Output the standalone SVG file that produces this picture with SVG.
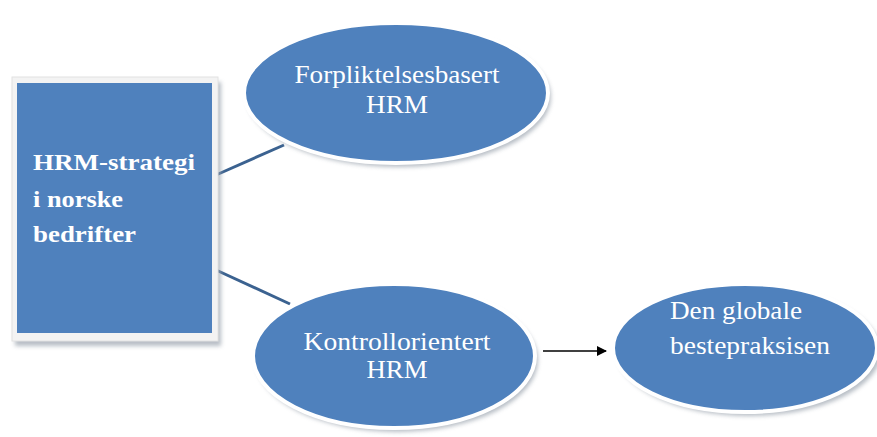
<svg xmlns="http://www.w3.org/2000/svg" width="877" height="437" viewBox="0 0 877 437">
<style>
.blue{fill:#4f81bd}
.oval{fill:#4f81bd;stroke:#ffffff;stroke-width:4}
.shadow{fill:#9aa3ad;opacity:0.7}
.t{font-family:"Liberation Serif","Times New Roman",serif;fill:#ffffff}
.tb{font-family:"Liberation Serif","Times New Roman",serif;fill:#ffffff;font-weight:bold;font-size:24px}
.conn{stroke:#3b6290;stroke-width:3;fill:none}
</style>
<defs>
<filter id="blur" x="-10%" y="-10%" width="120%" height="120%"><feGaussianBlur stdDeviation="2"/></filter>
<marker id="arr" markerWidth="10" markerHeight="10" refX="9" refY="5" orient="auto" markerUnits="userSpaceOnUse"><path d="M0,0 L10,5 L0,10 z" fill="#000"/></marker>
</defs>
<rect width="877" height="437" fill="#ffffff"/>
<g id="connectors">
<line class="conn" x1="216" y1="175" x2="284" y2="145"/>
<line class="conn" x1="216" y1="270" x2="290" y2="304"/>
<line x1="543" y1="351" x2="606" y2="351" stroke="#000" stroke-width="1.5" marker-end="url(#arr)"/>
</g>
<g id="strategy">
<rect class="shadow" x="15" y="82" width="206" height="264" filter="url(#blur)"/>
<rect x="12" y="77" width="206" height="264" fill="#f3f3f3" stroke="#e2e2e2" stroke-width="1"/>
<rect class="blue" x="17" y="83" width="195" height="250"/>
<text class="tb" x="33" y="170" textLength="162" lengthAdjust="spacingAndGlyphs">HRM-strategi</text>
<text class="tb" x="33" y="207" textLength="90" lengthAdjust="spacingAndGlyphs">i norske</text>
<text class="tb" x="33" y="242" textLength="103" lengthAdjust="spacingAndGlyphs">bedrifter</text>
</g>
<g id="forpliktelse">
<ellipse class="shadow" cx="399" cy="97" rx="152" ry="70" filter="url(#blur)"/>
<ellipse class="oval" cx="396" cy="93" rx="152" ry="70"/>
<text class="t" x="397" y="83" font-size="25" text-anchor="middle" textLength="205" lengthAdjust="spacingAndGlyphs">Forpliktelsesbasert</text>
<text class="t" x="397" y="113" font-size="25" text-anchor="middle" textLength="62" lengthAdjust="spacingAndGlyphs">HRM</text>
</g>
<g id="kontroll">
<ellipse class="shadow" cx="397" cy="360" rx="141" ry="72" filter="url(#blur)"/>
<ellipse class="oval" cx="394" cy="356" rx="141" ry="72"/>
<text class="t" x="397" y="350" font-size="25" text-anchor="middle" textLength="187" lengthAdjust="spacingAndGlyphs">Kontrollorientert</text>
<text class="t" x="397" y="378" font-size="25" text-anchor="middle" textLength="61" lengthAdjust="spacingAndGlyphs">HRM</text>
</g>
<g id="global">
<ellipse class="shadow" cx="749" cy="352" rx="132" ry="64" filter="url(#blur)"/>
<ellipse class="oval" cx="745" cy="348" rx="132" ry="64"/>
<text class="t" x="670" y="319" font-size="25" textLength="132" lengthAdjust="spacingAndGlyphs">Den globale</text>
<text class="t" x="670" y="354" font-size="25" textLength="160" lengthAdjust="spacingAndGlyphs">bestepraksisen</text>
</g>
</svg>
